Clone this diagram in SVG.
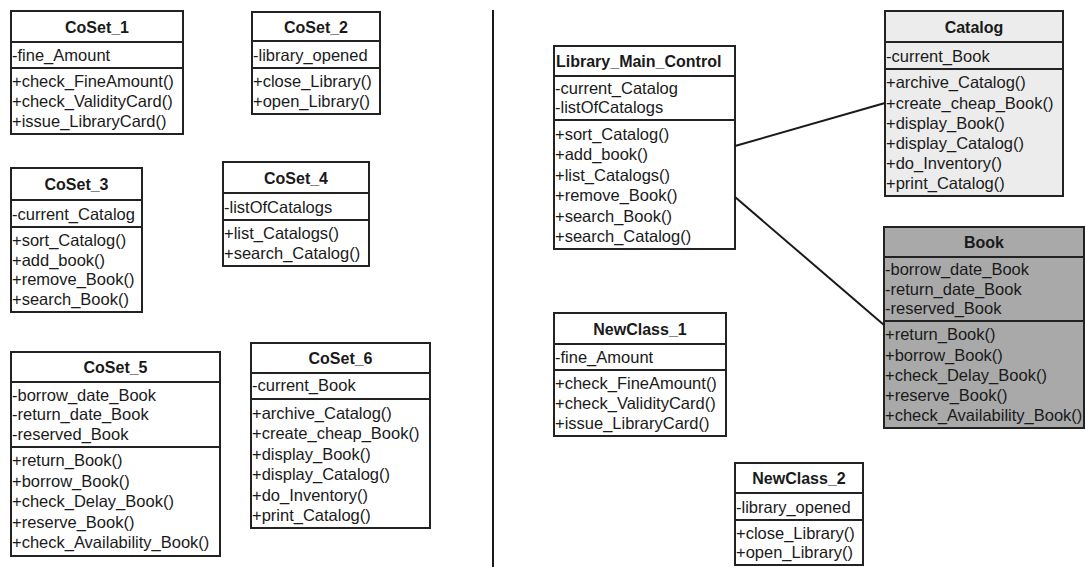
<svg xmlns="http://www.w3.org/2000/svg" width="1085" height="567" viewBox="0 0 1085 567">
<style>
.box{fill:#ffffff;stroke:#222;stroke-width:2}
.light{fill:#ececec}
.dark{fill:#a9a9a9}
.sep{stroke:#222;stroke-width:2}
.t{font-family:"Liberation Sans",Arial,Helvetica,sans-serif;font-size:16.5px;fill:#1a1a1a}
.h{font-family:"Liberation Sans",Arial,Helvetica,sans-serif;font-size:16px;font-weight:bold;fill:#1a1a1a;text-anchor:middle}
.conn{stroke:#1a1a1a;stroke-width:2;fill:none}
</style>
<rect width="1085" height="567" fill="#ffffff"/>
<g id="divider"><line class="conn" x1="493" y1="10" x2="493" y2="567"/></g>

<g id="CoSet_1">
<rect class="box" x="11" y="11" width="172" height="123"/>
<line class="sep" x1="11" y1="42" x2="183" y2="42"/><line class="sep" x1="11" y1="68" x2="183" y2="68"/>
<text class="h" x="97" y="32.5">CoSet_1</text>
<text class="t" x="12" y="61">-fine_Amount</text>
<text class="t" x="12" y="87">+check_FineAmount()</text>
<text class="t" x="12" y="107">+check_ValidityCard()</text>
<text class="t" x="12" y="127">+issue_LibraryCard()</text>
</g>

<g id="CoSet_2">
<rect class="box" x="252" y="12" width="128" height="102"/>
<line class="sep" x1="252" y1="41" x2="380" y2="41"/><line class="sep" x1="252" y1="68" x2="380" y2="68"/>
<text class="h" x="316" y="32.5">CoSet_2</text>
<text class="t" x="253" y="61">-library_opened</text>
<text class="t" x="253" y="87">+close_Library()</text>
<text class="t" x="253" y="107">+open_Library()</text>
</g>

<g id="CoSet_3">
<rect class="box" x="11" y="168" width="131" height="144"/>
<line class="sep" x1="11" y1="200" x2="142" y2="200"/><line class="sep" x1="11" y1="227" x2="142" y2="227"/>
<text class="h" x="76.5" y="190">CoSet_3</text>
<text class="t" x="12" y="220">-current_Catalog</text>
<text class="t" x="12" y="246">+sort_Catalog()</text>
<text class="t" x="12" y="265.5">+add_book()</text>
<text class="t" x="12" y="285">+remove_Book()</text>
<text class="t" x="12" y="304.5">+search_Book()</text>
</g>

<g id="CoSet_4">
<rect class="box" x="223" y="162" width="146" height="104"/>
<line class="sep" x1="223" y1="193" x2="369" y2="193"/><line class="sep" x1="223" y1="220" x2="369" y2="220"/>
<text class="h" x="296" y="183.5">CoSet_4</text>
<text class="t" x="224" y="213">-listOfCatalogs</text>
<text class="t" x="224" y="239">+list_Catalogs()</text>
<text class="t" x="224" y="259">+search_Catalog()</text>
</g>

<g id="CoSet_5">
<rect class="box" x="11" y="352" width="209" height="204"/>
<line class="sep" x1="11" y1="382" x2="220" y2="382"/><line class="sep" x1="11" y1="447" x2="220" y2="447"/>
<text class="h" x="115.5" y="373">CoSet_5</text>
<text class="t" x="12" y="400.5">-borrow_date_Book</text>
<text class="t" x="12" y="420">-return_date_Book</text>
<text class="t" x="12" y="440">-reserved_Book</text>
<text class="t" x="12" y="466">+return_Book()</text>
<text class="t" x="12" y="486.5">+borrow_Book()</text>
<text class="t" x="12" y="507">+check_Delay_Book()</text>
<text class="t" x="12" y="527.5">+reserve_Book()</text>
<text class="t" x="12" y="548">+check_Availability_Book()</text>
</g>

<g id="CoSet_6">
<rect class="box" x="251" y="343" width="179" height="185"/>
<line class="sep" x1="251" y1="373" x2="430" y2="373"/><line class="sep" x1="251" y1="399" x2="430" y2="399"/>
<text class="h" x="340.5" y="364">CoSet_6</text>
<text class="t" x="252" y="391">-current_Book</text>
<text class="t" x="252" y="418.5">+archive_Catalog()</text>
<text class="t" x="252" y="439">+create_cheap_Book()</text>
<text class="t" x="252" y="459.5">+display_Book()</text>
<text class="t" x="252" y="480">+display_Catalog()</text>
<text class="t" x="252" y="500.5">+do_Inventory()</text>
<text class="t" x="252" y="521">+print_Catalog()</text>
</g>

<g id="Library_Main_Control">
<rect class="box" x="554" y="46" width="181" height="203"/>
<line class="sep" x1="554" y1="76" x2="735" y2="76"/><line class="sep" x1="554" y1="120" x2="735" y2="120"/>
<text class="h" x="556" y="67" style="text-anchor:start">Library_Main_Control</text>
<text class="t" x="555" y="94">-current_Catalog</text>
<text class="t" x="555" y="113">-listOfCatalogs</text>
<text class="t" x="555" y="139.5">+sort_Catalog()</text>
<text class="t" x="555" y="160">+add_book()</text>
<text class="t" x="555" y="180.5">+list_Catalogs()</text>
<text class="t" x="555" y="201">+remove_Book()</text>
<text class="t" x="555" y="221.5">+search_Book()</text>
<text class="t" x="555" y="242">+search_Catalog()</text>
</g>

<g id="Catalog">
<rect class="box light" x="885" y="11" width="178" height="185"/>
<line class="sep" x1="885" y1="42" x2="1063" y2="42"/><line class="sep" x1="885" y1="69" x2="1063" y2="69"/>
<text class="h" x="974" y="32.5">Catalog</text>
<text class="t" x="886" y="62">-current_Book</text>
<text class="t" x="886" y="88">+archive_Catalog()</text>
<text class="t" x="886" y="108.5">+create_cheap_Book()</text>
<text class="t" x="886" y="128.5">+display_Book()</text>
<text class="t" x="886" y="148.5">+display_Catalog()</text>
<text class="t" x="886" y="169">+do_Inventory()</text>
<text class="t" x="886" y="189">+print_Catalog()</text>
</g>

<g id="Book">
<rect class="box dark" x="884" y="227" width="200" height="201"/>
<line class="sep" x1="884" y1="257" x2="1084" y2="257"/><line class="sep" x1="884" y1="321" x2="1084" y2="321"/>
<text class="h" x="984" y="248">Book</text>
<text class="t" x="885" y="275">-borrow_date_Book</text>
<text class="t" x="885" y="294.5">-return_date_Book</text>
<text class="t" x="885" y="314">-reserved_Book</text>
<text class="t" x="885" y="340">+return_Book()</text>
<text class="t" x="885" y="360.5">+borrow_Book()</text>
<text class="t" x="885" y="380.5">+check_Delay_Book()</text>
<text class="t" x="885" y="401">+reserve_Book()</text>
<text class="t" x="885" y="421">+check_Availability_Book()</text>
</g>

<g id="NewClass_1">
<rect class="box" x="554" y="313" width="172" height="123"/>
<line class="sep" x1="554" y1="344" x2="726" y2="344"/><line class="sep" x1="554" y1="370" x2="726" y2="370"/>
<text class="h" x="640" y="334.5">NewClass_1</text>
<text class="t" x="555" y="363">-fine_Amount</text>
<text class="t" x="555" y="389">+check_FineAmount()</text>
<text class="t" x="555" y="409">+check_ValidityCard()</text>
<text class="t" x="555" y="429">+issue_LibraryCard()</text>
</g>

<g id="NewClass_2">
<rect class="box" x="735" y="463" width="128" height="102"/>
<line class="sep" x1="735" y1="493" x2="863" y2="493"/><line class="sep" x1="735" y1="520" x2="863" y2="520"/>
<text class="h" x="799" y="484">NewClass_2</text>
<text class="t" x="736" y="513">-library_opened</text>
<text class="t" x="736" y="538.5">+close_Library()</text>
<text class="t" x="736" y="558">+open_Library()</text>
</g>

<g id="connectors">
<line class="conn" x1="735" y1="146" x2="885" y2="103"/>
<line class="conn" x1="735" y1="197" x2="884" y2="325"/>
</g>
</svg>
